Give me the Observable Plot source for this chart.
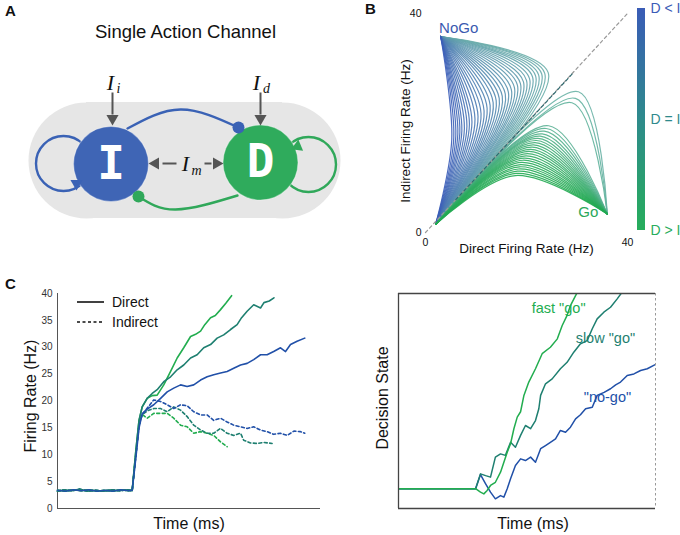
<!DOCTYPE html>
<html><head><meta charset="utf-8">
<script src="https://cdn.jsdelivr.net/npm/d3@7"></script>
<script src="https://cdn.jsdelivr.net/npm/@observablehq/plot@0.6"></script>
<style>
html,body{margin:0;padding:0;background:#fff;overflow:hidden;}
#fig{position:relative;width:680px;height:535px;overflow:hidden;font-family:"Liberation Sans",Arial,Helvetica,sans-serif;}
.panel{position:absolute;}
.plab{position:absolute;font-weight:bold;font-size:15px;line-height:15px;color:#111;}
.leg{position:absolute;font-size:14px;color:#111;display:flex;align-items:center;height:18px;}
.leg svg{margin-right:8px;}
</style></head><body><div id="fig"></div>
<script>
// ---------------- DATA ----------------
// Panel A: diagram (pixel space of the panel)
const aTitle = "Single Action Channel";
const aPillEnds = [{x:86,y:160},{x:282,y:160}];
const aPillBody = [{x1:86,x2:282,y1:102,y2:218}];
const aNodes = [{x:110.5,y:163.5,fill:"#3f65b5",label:"I"},{x:260,y:162,fill:"#2fab5c",label:"D"}];
const aLoops = [{x:63,y:163,stroke:"#3a62b5"},{x:308,y:164,stroke:"#30a85a"}];
const aArcPts = [
  {id:"inh",stroke:"#3a62b5",x:127,y:128},{id:"inh",stroke:"#3a62b5",x:180,y:109},{id:"inh",stroke:"#3a62b5",x:238,y:127},
  {id:"exc",stroke:"#30a85a",x:237,y:195},{id:"exc",stroke:"#30a85a",x:175,y:209},{id:"exc",stroke:"#30a85a",x:138,y:196}
];
const aArcEnds = [{x:238,y:127,fill:"#3a62b5"},{x:138,y:196,fill:"#30a85a"}];
const aInputs = [{x1:112,y1:92,x2:112,y2:114},{x1:260,y1:92,x2:260,y2:114},{x1:162,y1:163,x2:176,y2:163},{x1:204,y1:163,x2:211,y2:163}];
const aHeadsDown = [{x:112,y:118},{x:260,y:118}];
const aHeadLeft = [{x:155,y:163}];
const aHeadRight = [{x:216,y:163}];
const aLoopHeads = [{x:76,y:183,rot:60,fill:"#3a62b5"},{x:297,y:146,rot:-113,fill:"#30a85a"}];
const aInputLabels = [{x:110,y:82,main:"I",sub:"i",sx:118,sy:88},{x:256,y:82,main:"I",sub:"d",sx:266,sy:88},{x:185,y:163,main:"I",sub:"m",sx:196,sy:170}];

// Panel B: trajectories (Hz)
const bOrigin = [2, 1.5];
const bNoGo = [3, 35.8];
const bGo = [36, 3.4];
const noGoTurns = [
 [5.2,17],[5.6,17.3],[6,17.6],[6.4,18],[6.8,18.3],[7.2,18.6],[7.7,19],[8.2,19.4],[8.7,19.8],[9.2,20.2],
 [9.8,20.7],[10.4,21.2],[11,21.7],[11.6,22.2],[12.2,22.7],[12.8,23.2],[13.4,23.7],[14,24.1],[14.6,24.5],[15.2,24.9],
 [15.8,25.3],[16.4,25.7],[17,26.1],[17.6,26.5],[18.2,26.9],[18.8,27.2],[19.4,27.5],[20,27.8],[20.6,28.1],[21.2,28.4],
 [21.8,28.6],[22.4,28.8],[23,29],[23.6,29.1],[24.3,29.2]
];
const goPeaks = [
 [17.8,10.4],[18,10.8],[18.2,11.2],[18.4,11.6],[18.6,12],[18.8,12.4],[19,12.8],[19.3,13.2],[19.6,13.6],[19.9,14],
 [20.2,14.4],[20.5,14.8],[20.8,15.2],[21.1,15.6],[21.4,16],[21.7,16.4],[22,16.8],[22.3,17.2],[22.7,17.6],[23.1,18],
 [23.5,18.5],[23.9,19],[24.4,19.5],[29,23.7],[29.7,24.5],[30.3,25.7]
];
const bDiagonal = [[0,0],[40,40]];
const bDiagonalDark = [[6,6],[29.3,29.2]];
const bTicks = [0, 40];
const colorbarLabels = [{t:1,label:"D < I",c:"#3a5bb7"},{t:0.5,label:"D = I",c:"#2e8a8c"},{t:0,label:"D > I",c:"#27ad5c"}];

// Panel C: firing rates (time in % of window, Hz)
const cTicks = [0,5,10,15,20,25,30,35,40];
const cBaseA = [[0,3.4],[3,3.2],[6,3.5],[9,3.3],[12,3.5],[15,3.2],[18,3.4],[21,3.2],[24,3.5],[27,3.3],[28.4,3.4]];
const cBaseB = [[0,3.2],[2.5,3.5],[5.5,3.3],[8.5,3.6],[11.5,3.2],[14.5,3.4],[17.5,3.2],[20.5,3.5],[23.5,3.3],[26.5,3.5],[28.4,3.3]];
const cRise = [[29.8,10.8],[31,16.4],[32.2,18.9],[34.1,20.5]];
const cRiseBlue = [[29.8,9.5],[31,15],[32.2,17.6],[34.1,18.5]];
const cRiseDash = [[29.8,10],[31,15.5],[32.2,17.5]];
const directGo = [[36,21],[37.9,21.1],[40.4,23],[43,25.5],[45.5,28],[48,29.9],[50.6,32],[52.5,32.4],[54.4,33],[56,34.2],[58.2,35.5],[60,35.9],[62,37],[64,38.2],[66.2,39.6]];
const directSlow = [[36,21.4],[37.9,22.1],[40.4,23.6],[43,24.5],[45.5,25.8],[48,26.7],[50.6,28],[53.1,28.6],[55.6,29.9],[58.2,30.5],[60.7,31.7],[63.2,32.3],[65.8,33.3],[68.3,34.2],[70,35.5],[72.1,36.7],[74.6,37.9],[77.2,37.3],[78.5,38.3],[80.5,38.6],[82.3,39.2]];
const directNoGo = [[36.6,19.3],[39.2,20.5],[41.7,21.7],[44.2,22.4],[46.8,23],[49.3,22.7],[51.8,23],[54.4,23.9],[56.9,24.5],[59.4,24.9],[62,25.2],[64.5,25.5],[67,26.1],[69.6,26.7],[72.1,27],[74.6,27.7],[77.2,28.6],[79.7,28.6],[82.2,29.2],[84.8,29.9],[86.7,29.2],[88.6,30.5],[91.1,31.1],[94,31.7]];
const indirectGo = [[34.1,16.8],[36.6,17.7],[39.2,17.7],[41.7,17.7],[44.2,16.8],[46.8,15.5],[49.3,15.2],[51.8,14],[54.4,14.3],[56.9,14],[59.4,13.6],[62,12.4],[64.5,11.5]];
const indirectSlow = [[34.7,18.3],[36.6,18.6],[39.2,18.6],[41.7,18],[44.2,18.9],[46.8,18.3],[49.3,17.1],[51.8,15.5],[54.4,14.6],[56.9,14],[59.4,14],[62,14.9],[64.5,14],[67,13.6],[69.6,14],[70.8,12.7],[73.4,12.2],[75.9,12.1],[78.4,12.3],[81.6,12.1]];
const indirectNoGo = [[36.6,20.2],[39.2,19.9],[41.7,19.3],[44.2,18.6],[46.8,19.3],[49.3,19.1],[51.8,18],[54.4,17.4],[56.9,17.4],[59.4,16.4],[62,16.8],[64.5,16.1],[67,15.5],[69.6,15.2],[72.1,14.9],[74.6,15.2],[77.2,14.6],[79.7,14.3],[82.2,13.8],[84.8,14],[87.3,13.6],[89.9,14.4],[92.4,14.3],[94,14]];

// Panel D: decision state (time %, state %)
const dBase = [[0,9.2],[30,9.2]];
const stateNoGo = [[31.9,15.8],[33.9,11.5],[35.8,7.6],[37.7,4.5],[39.7,6],[41,5.3],[42.3,9.2],[43.6,13.8],[45.5,20],[47.5,23.1],[49.4,22.3],[51.4,23.9],[53.3,21.5],[55.3,27.8],[57.2,29.3],[59.1,30.8],[61.1,32.4],[63,36.3],[65,35.5],[66.9,37.8],[68.9,41.7],[70.8,43.6],[72.8,46.4],[75.4,47.1],[77.3,52.6],[80,54],[82.5,55.7],[84.5,57.5],[86.4,58.8],[89,61.9],[91.6,62.6],[94.2,64.2],[96.8,65],[99.7,66.8]];
const stateSlow = [[31.9,16.1],[33.9,15.3],[35.8,14.6],[37.7,23.9],[39.7,25.4],[41.6,24.7],[43.6,30.8],[45.5,28.5],[47.5,34],[49.4,38.6],[51.4,37.1],[53.3,40.9],[54.6,46.4],[55.3,52.6],[57.2,58],[59.8,60.3],[63,65],[65.6,68],[68.2,72.7],[70.8,76.6],[73.4,78.1],[75.4,83.6],[77.3,88.2],[79.9,91.3],[82.5,93.6],[85.1,97.5],[87,100.6]];
const stateFast = [[31.9,7.6],[33.2,6.8],[34.5,8.4],[35.8,10.7],[37.7,12.2],[39.7,16.9],[41,21.5],[42.3,26.2],[43.6,30.1],[44.9,37.1],[46.2,42.5],[47.5,45],[48.8,52.6],[50.7,58.8],[53.3,65],[55.9,72],[59.1,75],[61.8,78.9],[63.7,85.1],[65.6,89.8],[66.9,94.4],[68.9,99],[69.8,101]];
const dLabels = [{x:62.3,y:93,text:'fast "go"',c:"#22ad4f"},{x:80.5,y:79,text:'slow "go"',c:"#1e7f70"},{x:81.3,y:51.6,text:'"no-go"',c:"#2150a8"}];

const GREEN = "#22ad4f", TEAL = "#1e7f70", BLUE = "#2150a8";
const FONT = '"Liberation Sans", Arial, Helvetica, sans-serif';

// ---------------- HELPERS ----------------
const fig = document.getElementById("fig");
function place(el, left, top){const d=document.createElement("div");d.className="panel";d.style.left=left+"px";d.style.top=top+"px";d.appendChild(el);fig.appendChild(d);return d;}
function rows(id, color, pts){return pts.map(p=>({id, c:color, x:p[0], y:p[1]}));}

// ---------------- PANEL A ----------------
const plotA = Plot.plot({
  width:340, height:270, margin:0,
  x:{domain:[0,340], range:[0,340], axis:null},
  y:{domain:[0,270], range:[0,270], axis:null},
  color:{type:"identity"},
  style:{fontFamily:FONT, background:"transparent", overflow:"visible"},
  marks:[
    Plot.dot(aPillEnds,{x:"x",y:"y",r:58,fill:"#e6e6e6"}),
    Plot.rect(aPillBody,{x1:"x1",x2:"x2",y1:"y1",y2:"y2",fill:"#e6e6e6"}),
    Plot.dot(aLoops,{x:"x",y:"y",r:27.5,fill:"none",stroke:"stroke",strokeWidth:2.4}),
    Plot.line(aArcPts,{x:"x",y:"y",z:"id",stroke:"stroke",strokeWidth:2.4,curve:"natural"}),
    Plot.dot(aNodes,{x:"x",y:"y",r:37.5,fill:"fill",stroke:"white",strokeOpacity:0.35,strokeWidth:1.2}),
    Plot.dot(aArcEnds,{x:"x",y:"y",r:6,fill:"fill"}),
    Plot.link(aInputs,{x1:"x1",y1:"y1",x2:"x2",y2:"y2",stroke:"#555",strokeWidth:2}),
    Plot.dot(aHeadsDown,{x:"x",y:"y",symbol:"triangle",r:4.5,fill:"#555",rotate:180}),
    Plot.dot(aHeadLeft,{x:"x",y:"y",symbol:"triangle",r:4.5,fill:"#555",rotate:-90}),
    Plot.dot(aHeadRight,{x:"x",y:"y",symbol:"triangle",r:4.5,fill:"#555",rotate:90}),
    Plot.dot(aLoopHeads,{x:"x",y:"y",symbol:"triangle",r:4.5,fill:"fill",rotate:"rot"}),
    Plot.text(aNodes,{x:"x",y:"y",text:"label",fill:"white",fontSize:46,fontWeight:"bold",fontFamily:"DejaVu Sans Mono"}),
    Plot.text(aInputLabels,{x:"x",y:"y",text:"main",fontSize:22,fontStyle:"italic",fontFamily:"Liberation Serif",fill:"#111"}),
    Plot.text(aInputLabels,{x:"sx",y:"sy",text:"sub",fontSize:14,fontStyle:"italic",fontFamily:"Liberation Serif",fill:"#111"}),
    Plot.text([aTitle],{x:()=>185,y:()=>32,text:d=>d,fontSize:18.5,fill:"#111"})
  ]
});
place(plotA,0,0);

// ---------------- PANEL B ----------------
const bRows = [];
const nU = noGoTurns.length;
noGoTurns.slice().reverse().forEach((m,k)=>{
  const i = nU-1-k, t = i/(nU-1);
  const c = d3.interpolateRgb("#3a5cb8","#6aaeaa")(Math.pow(t,0.85));
  [bOrigin,m,bNoGo].forEach(p=>bRows.push({id:"u"+i,c,x:p[0],y:p[1]}));
});
const nL = goPeaks.length;
goPeaks.slice().reverse().forEach((m,k)=>{
  const i = nL-1-k, t = i/(nL-1);
  const c = d3.interpolateRgb("#22aa52","#6ab3a6")(Math.pow(t,1.6));
  [bOrigin,m,bGo].forEach(p=>bRows.push({id:"l"+i,c,x:p[0],y:p[1]}));
});
const plotB = Plot.plot({
  width:340, height:270, marginLeft:85, marginRight:53, marginTop:13, marginBottom:38,
  x:{domain:[0,40]}, y:{domain:[0,40]},
  color:{type:"identity"},
  style:{fontFamily:FONT, fontSize:"10.5px", color:"#111", background:"transparent", overflow:"visible"},
  marks:[
    Plot.axisX({ticks:bTicks, tickSize:0, tickPadding:6, label:null}),
    Plot.axisY({ticks:bTicks, tickSize:0, tickPadding:4, label:null}),
    Plot.line(bRows,{x:"x",y:"y",z:"id",stroke:"c",strokeWidth:1.2,strokeOpacity:0.9,curve:"catmull-rom"}),
    Plot.line(bDiagonal,{x:d=>d[0],y:d=>d[1],stroke:"#999",strokeWidth:1.2,strokeDasharray:"3,3"}),
    Plot.line(bDiagonalDark,{x:d=>d[0],y:d=>d[1],stroke:"#2f6a70",strokeWidth:1.2,strokeDasharray:"3,3"}),
    Plot.text([bNoGo],{x:d=>d[0],y:d=>d[1],text:()=>"NoGo",dx:18,dy:-8,fontSize:15,fill:"#3a5ab0"}),
    Plot.text([bGo],{x:d=>d[0],y:d=>d[1],text:()=>"Go",dx:-19,dy:-2,fontSize:15,fill:"#2aa85a"}),
    Plot.text(["Indirect Firing Rate (Hz)"],{frameAnchor:"left",textAnchor:"middle",lineAnchor:"middle",text:d=>d,dx:-20,dy:8,rotate:-90,fontSize:13.5}),
    Plot.text(["Direct Firing Rate (Hz)"],{frameAnchor:"bottom",lineAnchor:"middle",text:d=>d,dy:16,fontSize:13.5})
  ]
});
place(plotB,340,0);

// colorbar
const ramp = d3.range(0,1,0.01);
const plotCB = Plot.plot({
  width:50, height:240, marginLeft:7, marginRight:35, marginTop:8, marginBottom:10,
  x:{domain:[0,1],axis:null}, y:{domain:[0,1],axis:null},
  color:{type:"identity"},
  style:{fontFamily:FONT, background:"transparent", overflow:"visible"},
  marks:[
    Plot.rect(ramp,{x1:0,x2:1,y1:d=>d,y2:d=>Math.min(1,d+0.013),shapeRendering:"crispEdges",fill:d=>d>=0.5?d3.interpolateRgb("#2e8a8c","#3a5bb7")((d-0.5)*2):d3.interpolateRgb("#27ad5c","#2e8a8c")(d*2)}),
    Plot.text(colorbarLabels,{x:()=>1,y:"t",text:"label",fill:"c",dx:5,textAnchor:"start",fontSize:14})
  ]
});
place(plotCB,630,0);

// ---------------- PANEL C ----------------
const cSolid = [
  ...rows("dg",GREEN,[...cBaseA,...cRise,...directGo]),
  ...rows("ds",TEAL,[...cBaseB,...cRise,...directSlow]),
  ...rows("dn",BLUE,[...cBaseA,...cRiseBlue,...directNoGo])
];
const cDashed = [
  ...rows("ig",GREEN,[...cBaseB,...cRiseDash,...indirectGo]),
  ...rows("is",TEAL,[...cBaseA,...cRiseDash,...indirectSlow]),
  ...rows("in",BLUE,[...cBaseB,...cRiseDash,...indirectNoGo])
];
const plotC = Plot.plot({
  width:340, height:265, marginLeft:57, marginRight:20, marginTop:23, marginBottom:27,
  x:{domain:[0,100],axis:null}, y:{domain:[0,40]},
  color:{type:"identity"},
  style:{fontFamily:FONT, fontSize:"10px", color:"#333", background:"transparent", overflow:"visible"},
  marks:[
    Plot.axisY({ticks:cTicks, tickSize:0, tickPadding:5, label:null}),
    Plot.ruleX([0],{stroke:"#555"}),
    Plot.ruleY([0],{stroke:"#555"}),
    Plot.line(cDashed,{x:"x",y:"y",z:"id",stroke:"c",strokeWidth:1.6,strokeDasharray:"3,2.5"}),
    Plot.line(cSolid,{x:"x",y:"y",z:"id",stroke:"c",strokeWidth:1.6}),
    Plot.text(["Firing Rate (Hz)"],{frameAnchor:"left",textAnchor:"middle",lineAnchor:"middle",text:d=>d,dx:-27,dy:-5,rotate:-90,fontSize:16,fill:"#111"}),
    Plot.text(["Time (ms)"],{frameAnchor:"bottom",lineAnchor:"middle",text:d=>d,dy:15,fontSize:16,fill:"#111"})
  ]
});
place(plotC,0,270);

// legend C
const legItems = [{label:"Direct",dash:null,top:293},{label:"Indirect",dash:"3,2.5",top:313}];
legItems.forEach(it=>{
  const d=document.createElement("div");d.className="leg";d.style.left="77px";d.style.top=it.top+"px";
  d.innerHTML=`<svg width="27" height="4"><line x1="0" x2="27" y1="2" y2="2" stroke="#111" stroke-width="1.6" ${it.dash?`stroke-dasharray="${it.dash}"`:""}/></svg><span>${it.label}</span>`;
  fig.appendChild(d);
});

// ---------------- PANEL D ----------------
const dRows = [
  ...rows("n",BLUE,[...dBase,...stateNoGo]),
  ...rows("s",TEAL,[...dBase,...stateSlow]),
  ...rows("f",GREEN,[...dBase,...stateFast])
];
const plotD = Plot.plot({
  width:340, height:265, marginLeft:58, marginRight:25, marginTop:23, marginBottom:27,
  x:{domain:[0,100],axis:null}, y:{domain:[0,100],axis:null},
  color:{type:"identity"},
  style:{fontFamily:FONT, background:"transparent", overflow:"visible"},
  marks:[
    Plot.line(dRows,{x:"x",y:"y",z:"id",stroke:"c",strokeWidth:1.5,clip:true}),
    Plot.ruleX([100],{stroke:"#999",strokeDasharray:"2.5,2.5"}),
    Plot.ruleX([0],{stroke:"#444",strokeWidth:1.3}),
    Plot.ruleY([0,100],{stroke:"#444",strokeWidth:1.3}),
    Plot.text(dLabels,{x:"x",y:"y",text:"text",fill:"c",fontSize:14.5}),
    Plot.text(["Decision State"],{frameAnchor:"left",textAnchor:"middle",lineAnchor:"middle",text:d=>d,dx:-16,dy:-3,rotate:-90,fontSize:16,fill:"#111"}),
    Plot.text(["Time (ms)"],{frameAnchor:"bottom",lineAnchor:"middle",text:d=>d,dx:6,dy:15,fontSize:16,fill:"#111"})
  ]
});
place(plotD,340,270);

// panel letters
[["A",5,3],["B",365,1],["C",5,276]].forEach(([t,l,tp])=>{const d=document.createElement("div");d.className="plab";d.style.left=l+"px";d.style.top=tp+"px";d.textContent=t;fig.appendChild(d);});
</script></body></html>
